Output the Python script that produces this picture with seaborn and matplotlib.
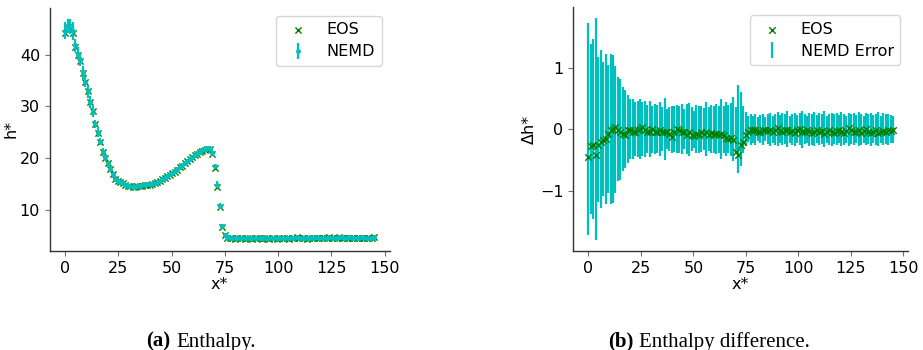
import numpy as np
import matplotlib
matplotlib.use("Agg")
import matplotlib.pyplot as plt
import seaborn as sns

# ---------------- data ----------------
n_points = 125
x_step = 1.17  # spacing of the bins along x*

h_nemd = [
    44.7, 45.6, 45.4, 44.6, 41.8, 40.2, 38.9, 36.6, 34.8, 32.9,
    30.9, 29.0, 26.6, 24.9, 23.1, 21.2, 20.1, 19.0, 17.9, 16.9,
    16.0, 15.6, 15.3, 15.1, 14.8, 14.6, 14.5, 14.4, 14.4, 14.5,
    14.6, 14.7, 14.8, 14.9, 14.9, 15.0, 15.2, 15.4, 15.6, 15.9,
    16.2, 16.5, 16.8, 17.1, 17.4, 17.8, 18.2, 18.6, 19.0, 19.4,
    19.8, 20.2, 20.6, 20.9, 21.2, 21.5, 21.7, 21.9, 21.8, 21.0,
    18.5, 14.8, 10.7, 6.9, 5.1, 4.6, 4.5, 4.5, 4.4, 4.5,
    4.5, 4.5, 4.4, 4.5, 4.5, 4.4, 4.5, 4.5, 4.5, 4.4,
    4.5, 4.4, 4.4, 4.5, 4.5, 4.4, 4.5, 4.5, 4.5, 4.5,
    4.4, 4.5, 4.5, 4.6, 4.5, 4.5, 4.5, 4.4, 4.5, 4.5,
    4.5, 4.6, 4.5, 4.5, 4.5, 4.5, 4.6, 4.5, 4.5, 4.5,
    4.7, 4.6, 4.5, 4.5, 4.6, 4.5, 4.5, 4.5, 4.5, 4.6,
    4.5, 4.5, 4.5, 4.5, 4.6,
]

dh_eos = [
    -0.45, -0.28, -0.26, -0.42, -0.26, -0.21, -0.17, -0.16, -0.08, -0.02,
    0.00, 0.04, -0.02, -0.05, -0.08, -0.09, -0.02, -0.01, -0.05, -0.04,
    -0.02, 0.00, 0.03, -0.02, -0.05, -0.04, 0.00, -0.04, -0.05, -0.02,
    -0.05, -0.05, -0.04, -0.08, -0.13, -0.04, 0.00, -0.01, -0.05, -0.05,
    -0.10, -0.05, -0.09, -0.11, -0.08, -0.09, -0.05, -0.08, -0.05, -0.09,
    -0.06, -0.08, -0.08, -0.09, -0.08, -0.10, -0.15, -0.16, -0.15, -0.18,
    -0.37, -0.42, -0.26, -0.21, -0.10, -0.05, -0.02, -0.01, -0.02, -0.05,
    -0.04, -0.02, -0.02,
    -0.03, -0.01, -0.04, -0.02, 0.02, -0.03, -0.05, -0.02, -0.01, -0.04,
    -0.03, -0.06, -0.02, 0.00, -0.04, -0.05, -0.01, -0.03, -0.07, -0.04,
    -0.02, -0.05, -0.03, -0.08, -0.05, -0.02, -0.04, -0.06, -0.03, -0.01,
    -0.05, -0.07, -0.03, 0.02, -0.02, -0.05, -0.04, -0.02, -0.06, -0.03,
    0.01, -0.04, -0.06, -0.05, -0.02, -0.07, -0.04, -0.03, -0.05, -0.02,
    -0.03, -0.01,
]

nemd_err = [
    1.72, 1.38, 1.46, 1.80, 1.18, 1.28, 1.09, 1.22, 1.04, 1.22,
    1.20, 1.03, 0.84, 0.82, 0.68, 0.63, 0.55, 0.49, 0.49, 0.44,
    0.46, 0.49, 0.44, 0.45, 0.39, 0.45, 0.38, 0.41, 0.39, 0.44,
    0.36, 0.50, 0.33, 0.36, 0.38, 0.37, 0.39, 0.38, 0.41, 0.33,
    0.41, 0.43, 0.36, 0.30, 0.39, 0.38, 0.37, 0.34, 0.44, 0.36,
    0.39, 0.38, 0.41, 0.38, 0.49, 0.38, 0.44, 0.39, 0.43, 0.52,
    0.36, 0.71, 0.60, 0.38, 0.28, 0.21, 0.25, 0.22, 0.25, 0.19,
    0.23, 0.25, 0.19,
    0.24, 0.27, 0.22, 0.25, 0.28, 0.23, 0.26, 0.24, 0.29, 0.22,
    0.25, 0.27, 0.23, 0.26, 0.30, 0.24, 0.22, 0.27, 0.25, 0.28,
    0.23, 0.26, 0.24, 0.29, 0.22, 0.25, 0.27, 0.24, 0.26, 0.23,
    0.28, 0.25, 0.22, 0.27, 0.24, 0.26, 0.23, 0.28, 0.25, 0.22,
    0.26, 0.24, 0.27, 0.23, 0.25, 0.28, 0.22, 0.26, 0.24, 0.25,
    0.23, 0.22,
]

x_labels = ["x*", "x*"]
y_labels = ["h*", "Δh*"]
captions = [("(a)", "Enthalpy."), ("(b)", "Enthalpy difference.")]

# ---------------- derived arrays ----------------
x = np.arange(n_points) * x_step
h_nemd = np.array(h_nemd)
dh_eos = np.array(dh_eos)
nemd_err = np.array(nemd_err)
h_eos = h_nemd + dh_eos

# ---------------- style ----------------
sns.set_style("ticks")
plt.rcParams["font.family"] = ["DejaVu Sans"]
plt.rcParams["axes.linewidth"] = 1.0
plt.rcParams["text.color"] = "black"
plt.rcParams["axes.labelcolor"] = "black"
plt.rcParams["xtick.labelcolor"] = "black"
plt.rcParams["ytick.labelcolor"] = "black"
plt.rcParams["axes.edgecolor"] = "0.2"
plt.rcParams["xtick.color"] = "0.45"
plt.rcParams["ytick.color"] = "0.45"

fig = plt.figure(figsize=(9.23, 3.5), dpi=100)
ax1 = fig.add_axes([0.054, 0.283, 0.368, 0.695])
ax2 = fig.add_axes([0.621, 0.283, 0.363, 0.696])

leg_kw = dict(loc="upper right", fontsize=11.5, labelspacing=0.45)
fs = 11.5

# ---------- (a) enthalpy ----------
sns.scatterplot(x=x, y=h_eos, ax=ax1, marker="x", color="g", s=20,
                linewidth=1.0, label="EOS", zorder=1)
ax1.errorbar(x, h_nemd, yerr=nemd_err, fmt=".", color="c", ecolor="c",
             elinewidth=1.6, markersize=5, label="NEMD", zorder=2)
ax1.set_xlabel(x_labels[0], fontsize=fs, labelpad=1)
ax1.set_ylabel(y_labels[0], fontsize=fs, labelpad=1)
ax1.set_xticks([0, 25, 50, 75, 100, 125, 150])
ax1.set_yticks([10, 20, 30, 40])
ax1.tick_params(labelsize=fs)
ax1.legend(**leg_kw)

# ---------- (b) enthalpy difference ----------
ax2.errorbar(x, np.zeros_like(x), yerr=nemd_err, fmt="none", ecolor="c",
             elinewidth=1.6, label="NEMD Error", zorder=2)
sns.scatterplot(x=x, y=dh_eos, ax=ax2, marker="x", color="g", s=22,
                linewidth=1.0, label="EOS", zorder=3)
ax2.set_xlabel(x_labels[1], fontsize=fs, labelpad=1)
ax2.set_ylabel(y_labels[1], fontsize=fs, labelpad=2)
ax2.set_xticks([0, 25, 50, 75, 100, 125, 150])
ax2.set_yticks([-1, 0, 1])
ax2.tick_params(labelsize=fs)
ax2.legend(**leg_kw)

sns.despine(fig=fig)

# ---------- captions ----------
cap_kw = dict(family="Liberation Serif", fontsize=15, va="baseline")
fig.text(146 / 923, 0.01, captions[0][0], fontweight="bold", **cap_kw)
fig.text(176 / 923, 0.01, captions[0][1], **cap_kw)
fig.text(608 / 923, 0.01, captions[1][0], fontweight="bold", **cap_kw)
fig.text(639 / 923, 0.01, captions[1][1], **cap_kw)

fig.savefig("out.png", dpi=100)
